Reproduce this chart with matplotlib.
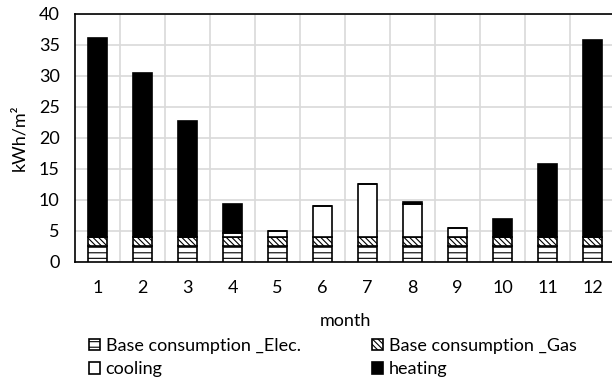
import matplotlib
matplotlib.use("Agg")
import matplotlib.pyplot as plt
import numpy as np

plt.rcParams['font.family'] = ['Lato', 'DejaVu Sans']
plt.rcParams['hatch.linewidth'] = 0.8

months = [1, 2, 3, 4, 5, 6, 7, 8, 9, 10, 11, 12]
base_elec = [2.5, 2.5, 2.5, 2.5, 2.5, 2.5, 2.5, 2.5, 2.5, 2.5, 2.5, 2.5]
base_gas = [1.6, 1.6, 1.6, 1.6, 1.6, 1.6, 1.6, 1.6, 1.6, 1.6, 1.6, 1.6]
cooling = [0.0, 0.0, 0.0, 0.5, 0.9, 4.9, 8.5, 5.3, 1.4, 0.0, 0.0, 0.0]
heating = [31.9, 26.4, 18.6, 4.7, 0.0, 0.0, 0.0, 0.3, 0.0, 2.8, 11.7, 31.65]

FS = 13

fig = plt.figure(figsize=(6.12, 3.79), dpi=100)
ax = fig.add_axes([75/612, 1-262/379, 540/612, (262-13.5)/379])

x = np.arange(len(months))
w = 0.42
b = np.zeros(len(months))
h1 = ax.bar(x, base_elec, w, bottom=b, color='white', edgecolor='black', hatch='---', linewidth=1.2,
            label='Base consumption _Elec.', zorder=3)
b += np.array(base_elec)
h2 = ax.bar(x, base_gas, w, bottom=b, color='white', edgecolor='black', hatch='\\\\\\\\\\\\', linewidth=1.2,
            label='Base consumption _Gas', zorder=3)
b += np.array(base_gas)
h3 = ax.bar(x, cooling, w, bottom=b, color='white', edgecolor='black', linewidth=1.2,
            label='cooling', zorder=3)
b += np.array(cooling)
h4 = ax.bar(x, heating, w, bottom=b, color='black', edgecolor='black', linewidth=1.2,
            label='heating', zorder=3)

ax.set_xlim(-0.5, 11.5)
ax.set_ylim(0, 40)
ax.set_yticks(range(0, 41, 5))
ax.set_xticks(x)
ax.set_xticklabels([str(m) for m in months])
ax.set_xticks(np.arange(0.5, 11.5, 1), minor=True)
ax.tick_params(axis='both', which='both', length=0, labelsize=FS)
ax.tick_params(axis='y', pad=11)
ax.tick_params(axis='x', pad=13)
ax.grid(True, which='major', axis='y', color='#d9d9d9', linewidth=1.2, zorder=0)
ax.grid(True, which='minor', axis='x', color='#d9d9d9', linewidth=1.2, zorder=0)
for s in ['left', 'bottom', 'top']:
    ax.spines[s].set_color('black')
    ax.spines[s].set_linewidth(1.2)
ax.spines['right'].set_visible(False)

ax.set_ylabel('kWh/m²', fontsize=FS, labelpad=8)
ax.set_xlabel('month', fontsize=FS, labelpad=12)

leg = ax.legend([h1, h3, h2, h4],
                ['Base consumption _Elec.', 'cooling', 'Base consumption _Gas', 'heating'],
                loc='upper left', bbox_to_anchor=(14/540, -0.305), ncol=2, frameon=False,
                fontsize=FS, handlelength=0.62, handleheight=0.62, handletextpad=0.3,
                columnspacing=3.95, labelspacing=0.42, borderaxespad=0, borderpad=0)
fig.savefig('out.png', dpi=100)
